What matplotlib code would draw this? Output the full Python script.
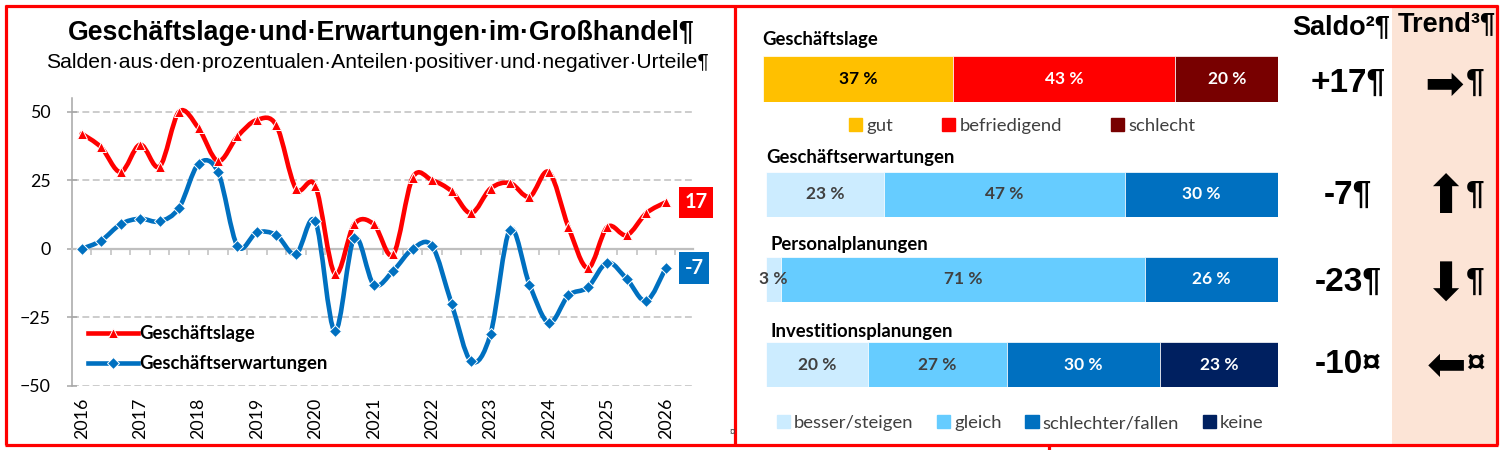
import numpy as np
import matplotlib
matplotlib.use("Agg")
import matplotlib.pyplot as plt
import matplotlib.transforms as mtransforms
from matplotlib.path import Path
from matplotlib.patches import PathPatch, Rectangle, Patch
from matplotlib.lines import Line2D

# ---- data ----
years = ["2016", "2017", "2018", "2019", "2020", "2021",
         "2022", "2023", "2024", "2025", "2026"]
# three survey points per year, Jan 2016 .. Jan 2026
lage = [42, 37, 28, 38, 30, 50, 44, 32, 41, 47, 45, 22, 23, -9, 9, 9,
        -2, 26, 25, 21, 13, 22, 24, 19, 28, 8, -7, 8, 5, 13, 17]
erwartung = [0, 3, 9, 11, 10, 15, 31, 28, 1, 6, 5, -2, 10, -30, 4, -13,
             -8, 0, 1, -20, -41, -31, 7, -13, -27, -17, -14, -5, -11, -19, -7]

rows = ["Geschäftslage", "Geschäftserwartungen",
        "Personalplanungen", "Investitionsplanungen"]
lage_cats = ["gut", "befriedigend", "schlecht"]
lage_share = [37, 43, 20]
plan_cats = ["besser/steigen", "gleich", "schlechter/fallen", "keine"]
erw_share = [23, 47, 30]
pers_share = [3, 71, 26]
inv_share = [20, 27, 30, 23]
saldo = [17, -7, -23, -10]
saldo_end = ["¶", "¶", "¶", "¤"]
trend = ["➡", "⬆", "⬇", "⬅"]

RED = "#FF0000"
BLUE = "#0070C0"
lage_colors = ["#FFC000", "#FF0000", "#780000"]
plan_colors = ["#CCECFF", "#66CCFF", "#0070C0", "#002060"]
DARK = "#404040"
CAL = "Lato"
ARIAL = "Liberation Sans"
FS = 13.3

W, H = 1502, 450
fig = plt.figure(figsize=(W / 100, H / 100), dpi=100)


def fx(px):
    return px / W


def fy(py):
    return 1 - py / H


def smooth_path(xs, ys):
    # Excel-like smoothed line: Catmull-Rom segments as cubic Bezier curves
    pts = np.column_stack([xs, ys]).astype(float)
    n = len(pts)
    verts = [pts[0]]
    codes = [Path.MOVETO]
    for i in range(n - 1):
        p0 = pts[max(i - 1, 0)]
        p1 = pts[i]
        p2 = pts[i + 1]
        p3 = pts[min(i + 2, n - 1)]
        verts += [p1 + (p2 - p0) / 6, p2 - (p3 - p1) / 6, p2]
        codes += [Path.CURVE4] * 3
    return Path(verts, codes)


# ---- left: line chart ----
ax = fig.add_axes([fx(72), fy(386), fx(693) - fx(72), fy(98) - fy(386)])
x = np.arange(len(lage))
ax.set_xlim(-0.5, 31.4)
ax.set_ylim(-50, 55)
ax.set_yticks([-50, -25, 0, 25, 50])
ax.yaxis.grid(True, color="#BFBFBF", lw=1.1, ls=(0, (4.5, 2.3)))
ax.set_axisbelow(True)
for s in ["top", "right"]:
    ax.spines[s].set_visible(False)
ax.spines["left"].set_color("#A6A6A6")
ax.spines["left"].set_linewidth(1.1)
ax.spines["bottom"].set_position(("data", 0))
ax.spines["bottom"].set_color("#BFBFBF")
ax.spines["bottom"].set_linewidth(1.6)
ax.set_xticks(np.arange(0.5, len(lage), 1))
ax.set_xticklabels([])
ax.tick_params(axis="x", direction="out", length=4, color="#BFBFBF", width=1.1)
ax.tick_params(axis="y", direction="inout", length=7, color="#A6A6A6",
               width=1.1, pad=12, labelsize=12.8)
for lab in ax.get_yticklabels():
    lab.set_family(CAL)

blend = mtransforms.blended_transform_factory(ax.transData, ax.transAxes)
for xi, yr in zip(x[::3], years):
    ax.text(xi, -0.042, yr, transform=blend, rotation=90, ha="center",
            va="top", fontsize=12.8, family=CAL)

for vals, col in [(lage, RED), (erwartung, BLUE)]:
    ax.add_patch(PathPatch(smooth_path(x, vals), fc="none", ec=col, lw=3.3,
                           capstyle="round", joinstyle="round", zorder=3))
ax.plot(x, lage, ls="none", marker="^", ms=7.5, mfc=RED, mec="white",
        mew=0.7, zorder=4)
ax.plot(x, erwartung, ls="none", marker="D", ms=5.8, mfc=BLUE, mec="white",
        mew=0.7, zorder=4)

# end-value boxes, left-aligned just right of the plot area
for vals, col in [(lage, RED), (erwartung, BLUE)]:
    ax.annotate(f"{vals[-1]}", xy=(x[-1], vals[-1]), xytext=(13.6, 0),
                textcoords="offset points", ha="left", va="center",
                color="white", fontsize=14.5, fontweight="bold", family=CAL,
                bbox=dict(boxstyle="square,pad=0.28", fc=col, ec="none"),
                annotation_clip=False)

handles = [
    Line2D([], [], color=RED, lw=3.3, marker="^", ms=7.5, mfc=RED,
           mec="white", mew=0.7),
    Line2D([], [], color=BLUE, lw=3.3, marker="D", ms=5.8, mfc=BLUE,
           mec="white", mew=0.7),
]
ax.legend(handles, ["Geschäftslage", "Geschäftserwartungen"],
          loc="upper left", bbox_to_anchor=(fx(88), fy(325)),
          bbox_transform=fig.transFigure, frameon=False, handlelength=2.7,
          handletextpad=0.1, labelspacing=0.72, borderpad=0,
          borderaxespad=0, prop=dict(family=CAL, weight="bold", size=FS))

fig.text(fx(381), fy(40), "Geschäftslage·und·Erwartungen·im·Großhandel¶",
         ha="center", va="baseline", fontsize=19.3, fontweight="bold",
         family=ARIAL)
fig.text(fx(377), fy(68), "Salden·aus·den·prozentualen·Anteilen·positiver·"
         "und·negativer·Urteile¶",
         ha="center", va="baseline", fontsize=15.2, family=ARIAL)
fig.text(fx(732), fy(432), "¤", ha="center", va="center", fontsize=7,
         color=DARK, family=ARIAL)


# ---- right: stacked share bars ----
def share_bar(x0, x1, y0, y1, shares, colors, txt_colors):
    bx = fig.add_axes([fx(x0), fy(y1), fx(x1) - fx(x0), fy(y0) - fy(y1)])
    left = np.concatenate([[0], np.cumsum(shares)[:-1]])
    bx.barh(0, shares, left=left, height=1, color=colors,
            edgecolor="white", linewidth=0.5)
    for l, s, tc in zip(left, shares, txt_colors):
        bx.text(l + s / 2, 0, f"{s} %", ha="center", va="center",
                color=tc, fontsize=12.5, fontweight="bold", family=CAL)
    bx.set_xlim(0, sum(shares))
    bx.set_ylim(-0.5, 0.5)
    bx.axis("off")
    return bx


plan_txt = [DARK, DARK, "white", "white"]
share_bar(762.7, 1278.3, 56, 101.7, lage_share, lage_colors,
          ["black", "white", "white"])
share_bar(766, 1278.3, 172, 216.7, erw_share, plan_colors[:3], plan_txt[:3])
share_bar(766, 1278.3, 256.7, 301.7, pers_share, plan_colors[:3], plan_txt[:3])
share_bar(766, 1278.3, 342, 387, inv_share, plan_colors, plan_txt)

for name, px, py in zip(rows, [762.7, 766, 770.7, 770.7], [40, 158, 244, 331]):
    fig.text(fx(px), fy(py), name, ha="left", va="center", fontsize=FS,
             fontweight="bold", family=CAL, color="black")

leg_kw = dict(frameon=False, handlelength=0.72, handleheight=0.72,
              handletextpad=0.22, borderpad=0, borderaxespad=0,
              loc="center left", bbox_transform=fig.transFigure,
              prop=dict(family=CAL, size=FS), labelcolor=DARK)
fig.legend([Patch(color=c) for c in lage_colors], lage_cats, ncol=3,
           columnspacing=2.65, bbox_to_anchor=(fx(849), fy(126)), **leg_kw)
fig.legend([Patch(color=c) for c in plan_colors], plan_cats, ncol=4,
           columnspacing=1.27, bbox_to_anchor=(fx(776.7), fy(423)), **leg_kw)

# ---- Saldo / Trend columns ----
fig.add_artist(Rectangle((fx(1392), fy(444)), fx(1496) - fx(1392),
                         fy(6) - fy(444), transform=fig.transFigure,
                         fc="#FCE4D6", ec="none", zorder=0))
fig.text(fx(1341), fy(34), "Saldo²¶", ha="center", va="baseline",
         fontsize=19.5, fontweight="bold", family=ARIAL)
fig.text(fx(1447), fy(31), "Trend³¶", ha="center", va="baseline",
         fontsize=19.5, fontweight="bold", family=ARIAL)
arrow_size = [34, 38, 38, 34]
arrow_mid = [81, 192, 279, 362]
arrow_right = [1464, 1467, 1467, 1466]
for v, end, arr, base, asz, amid, ar in zip(saldo, saldo_end, trend,
                                            [91.7, 204, 290.7, 373],
                                            arrow_size, arrow_mid,
                                            arrow_right):
    fig.text(fx(1348), fy(base), f"{v:+d}{end}", ha="center", va="baseline",
             fontsize=24, fontweight="bold", family=ARIAL)
    fig.text(fx(ar), fy(amid), arr, ha="right", va="center_baseline",
             fontsize=asz, family="DejaVu Sans")
    fig.text(fx(1466), fy(base), end, ha="left", va="baseline",
             fontsize=24, fontweight="bold", family=ARIAL)

# ---- red frame ----
for xs, ys in [([5, 1498], [5.5, 5.5]), ([5, 1498], [445, 445]),
               ([6.5, 6.5], [5, 445]), ([735, 735], [5, 445]),
               ([1497, 1497], [5, 445]), ([1049, 1049], [445, 450])]:
    fig.add_artist(Line2D([fx(v) for v in xs], [fy(v) for v in ys],
                          color=RED, lw=2.3, solid_capstyle="butt"))

fig.savefig("out.png", dpi=100)
